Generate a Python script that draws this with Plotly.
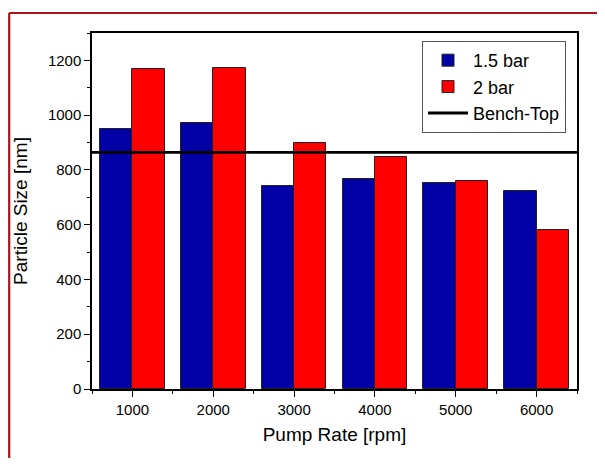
import plotly.graph_objects as go

pump_rates = [1000, 2000, 3000, 4000, 5000, 6000]
size_15bar = [951, 972, 743, 767, 753, 722]
size_2bar = [1170, 1172, 898, 849, 761, 581]
bench_top = 864
x_range = [500, 6500]
y_range = [0, 1300]

# page has an 8px body margin; figure coordinates are offset by it
OFF = 8
L, R, T, B = 92 - OFF, 20, 33 - OFF, 69
pw, ph = 485, 356
W, H = L + pw + R, T + ph + B

font = "Liberation Sans, Arial, sans-serif"

fig = go.Figure()
fig.add_trace(go.Bar(x=pump_rates, y=size_15bar, name="1.5 bar", offset=-400, width=400,
                     marker=dict(color="#0000a4", line=dict(color="#222222", width=1))))
fig.add_trace(go.Bar(x=pump_rates, y=size_2bar, name="2 bar", offset=0, width=400,
                     marker=dict(color="#ff0000", line=dict(color="#222222", width=1))))
fig.add_trace(go.Scatter(x=x_range, y=[bench_top, bench_top], mode="lines", name="Bench-Top",
                         line=dict(color="black", width=2.8)))

axis_common = dict(showgrid=False, zeroline=False, showline=True, linecolor="black", linewidth=1.5,
                   mirror=True, ticks="outside", tickcolor="black", tickwidth=1.2, ticklen=6,
                   tickfont=dict(family=font, size=15, color="black"))

fig.update_layout(
    width=W, height=H,
    margin=dict(l=L, r=R, t=T, b=B, autoexpand=False),
    paper_bgcolor="white", plot_bgcolor="white",
    font=dict(family=font, color="black"),
    showlegend=True,
    legend=dict(x=(566 - 92) / pw, y=1 - (41 - 33) / ph, xanchor="right", yanchor="top",
                bgcolor="white", bordercolor="#555555", borderwidth=1,
                font=dict(family=font, size=18, color="black"),
                tracegroupgap=0, itemwidth=40),
    xaxis=dict(range=x_range, tickvals=pump_rates,
               title=dict(text="Pump Rate [rpm]", font=dict(family=font, size=19), standoff=11),
               minor=dict(tickvals=[500, 1500, 2500, 3500, 4500, 5500, 6500], ticks="outside",
                          ticklen=3, tickcolor="black", tickwidth=1.2),
               **axis_common),
    yaxis=dict(range=y_range, tickvals=[0, 200, 400, 600, 800, 1000, 1200],
               title=dict(text="Particle Size [nm]", font=dict(family=font, size=19), standoff=15),
               minor=dict(tickvals=[100, 300, 500, 700, 900, 1100, 1300], ticks="outside",
                          ticklen=3, tickcolor="black", tickwidth=1.2),
               **axis_common),
    bargap=0,
)

# outer dark-red frame (only left and top visible in the view)
x_left = (1.2 - L) / pw
y_top = 1 + (33 - 13) / ph
fig.add_shape(type="line", xref="paper", yref="paper", x0=x_left, x1=1 + (R + 5) / pw, y0=y_top, y1=y_top,
              line=dict(color="#a3161c", width=2.2))
fig.add_shape(type="line", xref="paper", yref="paper", x0=x_left, x1=x_left, y0=y_top, y1=-(B + 5) / ph,
              line=dict(color="#a3161c", width=2.2))

fig.write_html("out.html")
